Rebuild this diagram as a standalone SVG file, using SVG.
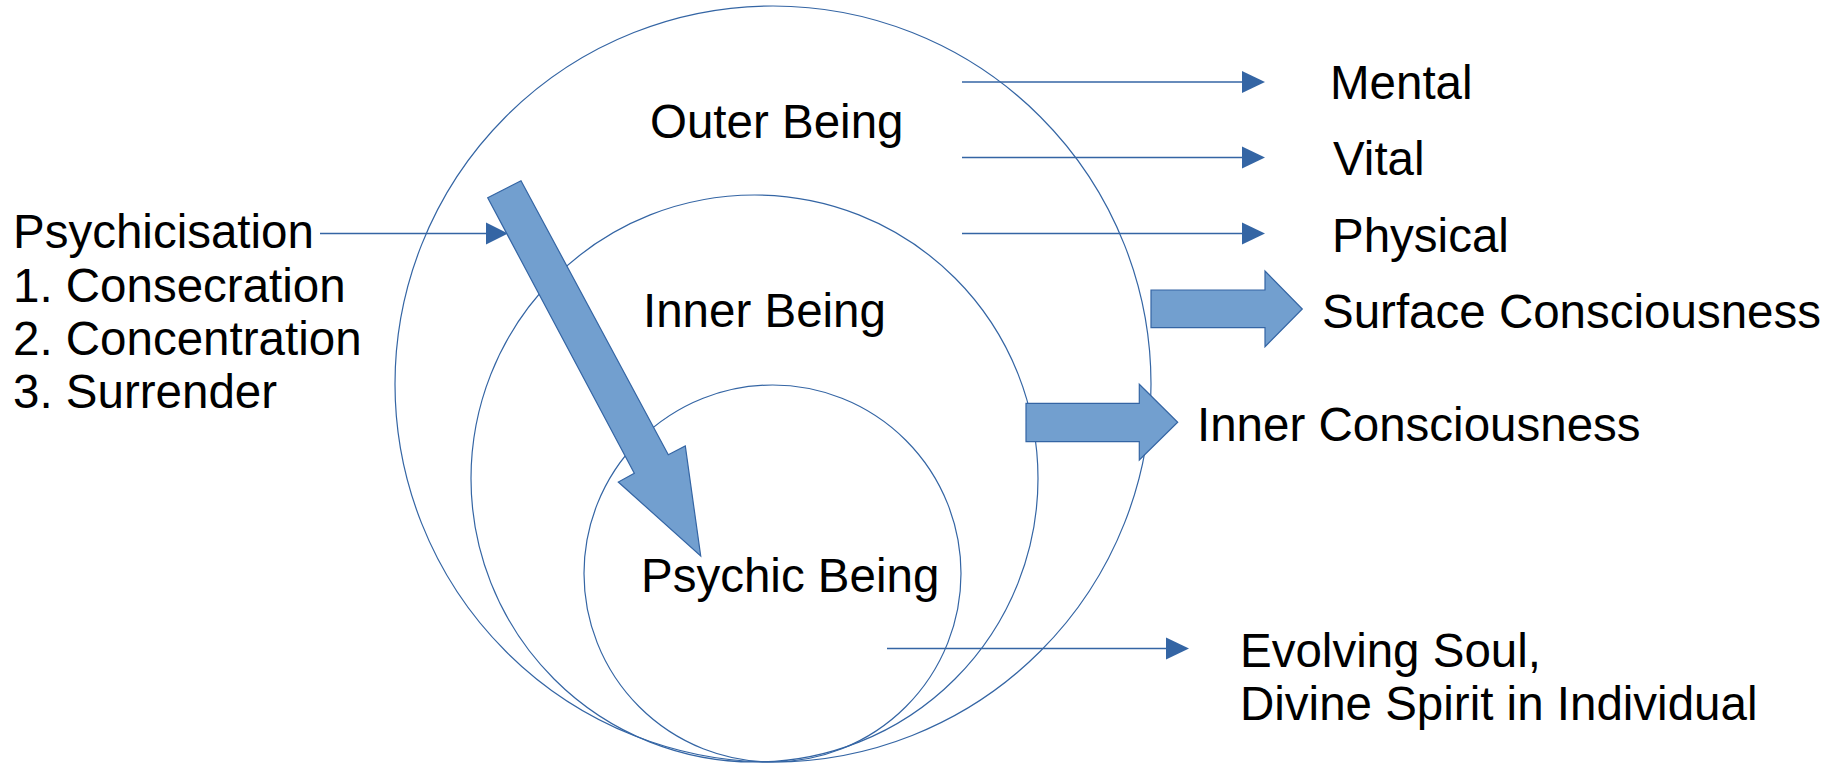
<svg xmlns="http://www.w3.org/2000/svg" width="1837" height="764" viewBox="0 0 1837 764">
<style>
.c{fill:none;stroke:#3465a4;stroke-width:1.2}
.l{fill:none;stroke:#3465a4;stroke-width:1.3}
.ah{fill:#3465a4;stroke:none}
.ba{fill:#729fcf;stroke:#3465a4;stroke-width:1.2;stroke-linejoin:miter}
text{font-family:"Liberation Sans",Arial,sans-serif;font-size:47.5px;fill:#000}
</style>
<rect width="1837" height="764" fill="#fff"/>
<g id="outer-being">
<circle class="c" cx="773" cy="384" r="378"/>
<text x="650" y="137.5">Outer Being</text>
</g>
<g id="inner-being">
<circle class="c" cx="754.5" cy="478.5" r="283.5"/>
<text x="643" y="326.5">Inner Being</text>
</g>
<g id="psychic-being">
<circle class="c" cx="772.5" cy="573.5" r="188.5"/>
<text x="641" y="591.5">Psychic Being</text>
</g>
<g id="psychicisation">
<text x="13" y="248">Psychicisation</text>
<text x="13" y="301.5">1. Consecration</text>
<text x="13" y="355">2. Concentration</text>
<text x="13" y="408">3. Surrender</text>
</g>
<g id="mental"><text x="1330" y="98.5">Mental</text></g>
<g id="vital"><text x="1333" y="174.5">Vital</text></g>
<g id="physical"><text x="1332" y="252">Physical</text></g>
<g id="surface-consciousness"><text x="1322" y="328">Surface Consciousness</text></g>
<g id="inner-consciousness"><text x="1197" y="441">Inner Consciousness</text></g>
<g id="evolving-soul">
<text x="1240" y="666.5">Evolving Soul,</text>
<text x="1240" y="720">Divine Spirit in Individual</text>
</g>
<g id="connectors">
<line class="l" x1="962" y1="82" x2="1243" y2="82"/>
<polygon class="ah" points="1242,71 1265,82 1242,93"/>
<line class="l" x1="962" y1="157.5" x2="1243" y2="157.5"/>
<polygon class="ah" points="1242,146.5 1265,157.5 1242,168.5"/>
<line class="l" x1="962" y1="233.5" x2="1243" y2="233.5"/>
<polygon class="ah" points="1242,222.5 1265,233.5 1242,244.5"/>
<line class="l" x1="320" y1="233.5" x2="487" y2="233.5"/>
<polygon class="ah" points="486,222.5 508,233.5 486,244.5"/>
<line class="l" x1="887" y1="648.5" x2="1167" y2="648.5"/>
<polygon class="ah" points="1166,637.5 1189,648.5 1166,659.5"/>
<polygon class="ba" points="487.7,197.7 521,180.7 668.3,454.7 685.3,446 700.7,556 618.3,482 634.3,473.3"/>
<polygon class="ba" points="1151,290 1265,290 1265,271 1302.3,309 1265,346.7 1265,327.7 1151,327.7"/>
<polygon class="ba" points="1026,403.3 1139.3,403.3 1139.3,384.3 1177.7,422.3 1139.3,460 1139.3,441.7 1026,441.7"/>
</g>
</svg>
